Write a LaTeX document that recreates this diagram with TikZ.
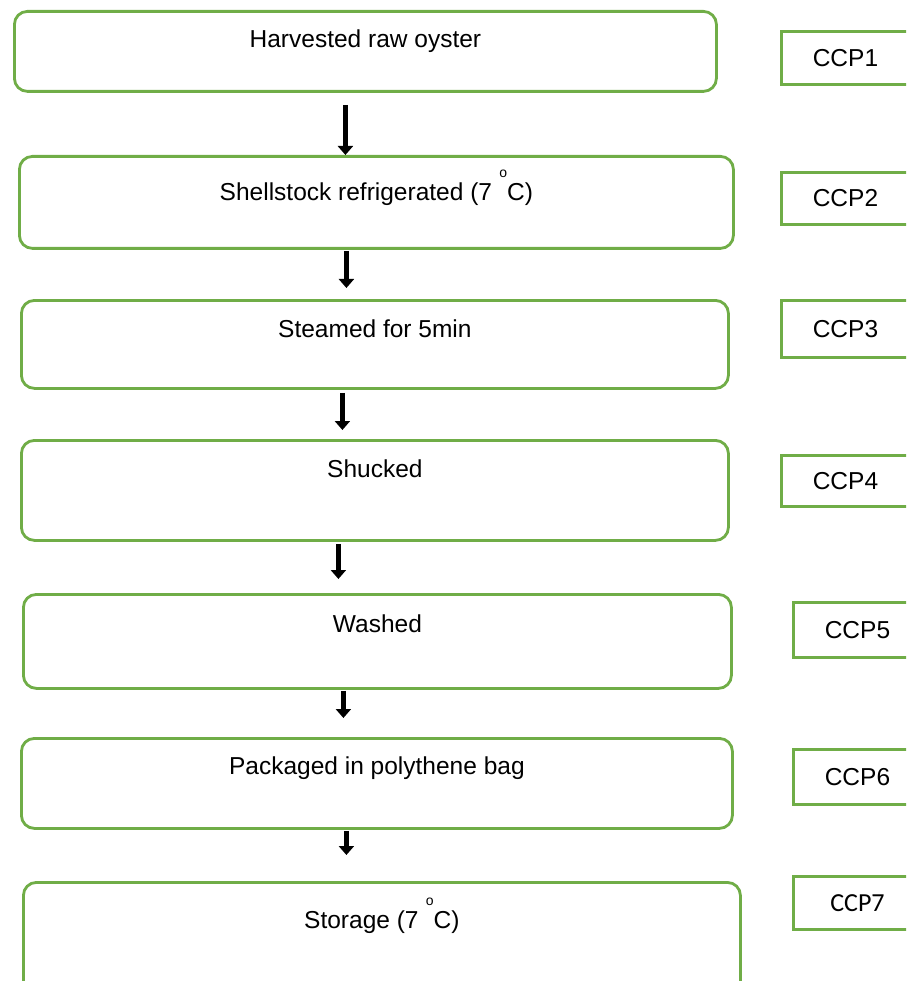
\documentclass[tikz,border=0pt]{standalone}
\usepackage{fontspec}
\setmainfont{Liberation Sans}
\newfontfamily\ccpfont{Carlito}
\usepackage{tikz}
\usetikzlibrary{calc,arrows.meta}
\definecolor{boxgreen}{HTML}{70AD47}
\newcommand{\degsign}{\hspace{0.3em}\raisebox{0.92em}{\fontsize{14}{14}\selectfont o}}
\tikzset{
  stepbox/.style={draw=boxgreen, line width=2.8pt, rounded corners=13pt, anchor=north west, inner sep=0pt, font=\fontsize{24.5}{28}\selectfont},
  ccpbox/.style={draw=boxgreen, line width=2.9pt, anchor=north west, inner sep=0pt, minimum width=128pt, font=\fontsize{24.5}{28}\selectfont},
  flowarrow/.style={-{Triangle[width=15pt,length=9pt]}, line width=5.5pt, draw=black}
}

\begin{document}
\begin{tikzpicture}[x=1pt, y=-1pt]
  \clip (0,0) rectangle (906,981);

  \node[stepbox, minimum width=702pt, text height=36pt, text depth=44pt] (harvest) at (13,10) {Harvested raw oyster};
  \node[stepbox, minimum width=714pt, text height=44pt, text depth=48pt] (refrig) at (18,155) {Shellstock refrigerated (7\degsign C)};
  \node[stepbox, minimum width=707pt, text height=37pt, text depth=51pt] (steam) at (20,299) {Steamed for 5min};
  \node[stepbox, minimum width=707pt, text height=37pt, text depth=63pt] (shuck) at (20,439) {Shucked};
  \node[stepbox, minimum width=708pt, text height=38pt, text depth=56pt] (wash) at (22,593) {Washed};
  \node[stepbox, minimum width=711pt, text height=36pt, text depth=54pt] (pack) at (20,737) {Packaged in polythene bag};
  \node[stepbox, minimum width=717pt, text height=46pt, text depth=84pt] (store) at (22,881) {Storage (7\degsign C)};

  \node[ccpbox, minimum height=53pt] (ccp1) at (780,30) {CCP1};
  \node[ccpbox, minimum height=52pt] (ccp2) at (780,171) {CCP2};
  \node[ccpbox, minimum height=57pt] (ccp3) at (780,299) {CCP3};
  \node[ccpbox, minimum height=51pt] (ccp4) at (780,454) {CCP4};
  \node[ccpbox, minimum height=55pt] (ccp5) at (792,601) {CCP5};
  \node[ccpbox, minimum height=55pt] (ccp6) at (792,748) {CCP6};
  \node[ccpbox, minimum height=53pt, font=\ccpfont\fontsize{26}{30}\selectfont] (ccp7) at (792,875) {CCP7};

  \draw[flowarrow] ($(harvest.south)+(-20,12)$) -- ($(refrig.north)+(-31,0)$);
  \draw[flowarrow] ($(refrig.south)+(-30,1)$) -- ($(steam.north)+(-28.5,-11)$);
  \draw[flowarrow] ($(steam.south)+(-32.5,3)$) -- ($(shuck.north)+(-32.5,-9)$);
  \draw[flowarrow] ($(shuck.south)+(-36.5,2)$) -- ($(wash.north)+(-39,-14)$);
  \draw[flowarrow] ($(wash.south)+(-34,1)$) -- ($(pack.north)+(-33.5,-19)$);
  \draw[flowarrow] ($(pack.south)+(-30.5,1)$) -- ($(store.north)+(-35.5,-26)$);
\end{tikzpicture}
\end{document}
